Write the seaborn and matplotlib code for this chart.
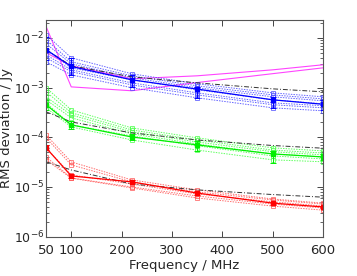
import matplotlib
matplotlib.use('Agg')
import matplotlib.pyplot as plt
import seaborn as sns
import numpy as np

sns.set_style('ticks')
plt.rcParams.update({
    'font.family': ['DejaVu Sans'],
    'xtick.direction': 'in',
    'ytick.direction': 'in',
    'xtick.top': True,
    'ytick.right': True,
    'axes.linewidth': 0.8,
})

FREQ = [50, 100, 220, 350, 500, 600]
XTICKS = [50, 100, 200, 300, 400, 500, 600]

# magenta reference curves
MAG_A = [1.70e-2, 1.03e-3, 8.6e-4, 1.26e-3, 1.90e-3, 2.49e-3]
MAG_B = [5.0e-3, 2.74e-3, 1.50e-3, 1.72e-3, 2.27e-3, 2.87e-3]

# blue group
BLUE_MAIN = [5.8e-3, 2.65e-3, 1.43e-3, 9.3e-4, 5.65e-4, 4.6e-4]
BLUE_LO = [3.6e-3, 1.80e-3, 1.03e-3, 6.2e-4, 3.9e-4, 3.6e-4]
BLUE_HI = [1.05e-2, 3.97e-3, 1.80e-3, 1.03e-3, 6.5e-4, 5.6e-4]
BLUE_MODEL = [5.75e-3, 2.74e-3, 1.64e-3, 1.24e-3, 9.4e-4, 8.2e-4]
BLUE_RUNS = [
    [1.16e-2, 3.97e-3, 1.89e-3, 1.19e-3, 7.8e-4, 6.5e-4],
    [9.2e-3, 3.3e-3, 1.72e-3, 1.08e-3, 7.1e-4, 5.9e-4],
    [7.6e-3, 3.0e-3, 1.57e-3, 9.9e-4, 6.5e-4, 5.4e-4],
    [5.75e-3, 2.49e-3, 1.43e-3, 9.0e-4, 5.65e-4, 4.7e-4],
    [4.56e-3, 2.27e-3, 1.24e-3, 7.8e-4, 4.9e-4, 4.3e-4],
    [3.97e-3, 2.08e-3, 1.13e-3, 7.1e-4, 4.5e-4, 3.9e-4],
    [3.3e-3, 1.8e-3, 9.9e-4, 6.2e-4, 3.9e-4, 3.4e-4],
]

# green group
GREEN_MAIN = [4.5e-4, 1.77e-4, 1.01e-4, 7.0e-5, 4.6e-5, 4.0e-5]
GREEN_LO = [3.6e-4, 1.45e-4, 8.6e-5, 5.3e-5, 3.0e-5, 3.5e-5]
GREEN_HI = [5.6e-4, 2.1e-4, 1.15e-4, 8.4e-5, 5.3e-5, 4.5e-5]
GREEN_MODEL = [3.24e-4, 2.03e-4, 1.22e-4, 8.8e-5, 6.8e-5, 6.0e-5]
GREEN_RUNS = [
    [9.9e-4, 3.55e-4, 1.54e-4, 9.7e-5, 6.1e-5, 5.3e-5],
    [8.2e-4, 3.1e-4, 1.4e-4, 8.8e-5, 5.5e-5, 4.8e-5],
    [6.5e-4, 2.8e-4, 1.28e-4, 8.0e-5, 5.1e-5, 4.4e-5],
    [5.65e-4, 2.45e-4, 1.17e-4, 7.3e-5, 4.6e-5, 4.0e-5],
    [4.9e-4, 1.77e-4, 1.06e-4, 6.7e-5, 4.2e-5, 3.65e-5],
    [3.9e-4, 1.61e-4, 8.8e-5, 5.5e-5, 3.5e-5, 3.2e-5],
]

# red group
RED_MAIN = [6.1e-5, 1.66e-5, 1.26e-5, 7.5e-6, 4.7e-6, 3.94e-6]
RED_LO = [5.4e-5, 1.5e-5, 1.17e-5, 7.0e-6, 4.4e-6, 3.7e-6]
RED_HI = [6.9e-5, 1.8e-5, 1.36e-5, 8.0e-6, 5.0e-6, 4.2e-6]
RED_MODEL = [3.2e-5, 2.19e-5, 1.14e-5, 8.7e-6, 7.0e-6, 6.2e-6]
RED_RUNS = [
    [1.11e-4, 3.18e-5, 1.38e-5, 8.7e-6, 5.7e-6, 4.7e-6],
    [9.7e-5, 2.77e-5, 1.26e-5, 7.9e-6, 5.45e-6, 4.5e-6],
    [6.1e-5, 1.74e-5, 1.14e-5, 7.2e-6, 5.0e-6, 4.1e-6],
    [4.0e-5, 1.51e-5, 9.95e-6, 6.55e-6, 4.5e-6, 3.76e-6],
    [3.5e-5, 1.5e-5, 9.5e-6, 5.97e-6, 4.1e-6, 3.4e-6],
]

GROUPS = [
    ('#0000ff', '#4a4aff', BLUE_MAIN, BLUE_LO, BLUE_HI, BLUE_MODEL, BLUE_RUNS),
    ('#00ee00', '#44ff44', GREEN_MAIN, GREEN_LO, GREEN_HI, GREEN_MODEL, GREEN_RUNS),
    ('#ff0000', '#ff5555', RED_MAIN, RED_LO, RED_HI, RED_MODEL, RED_RUNS),
]

fig, ax = plt.subplots(figsize=(3.57, 2.76), dpi=100)
fig.subplots_adjust(left=0.129, right=0.905, bottom=0.143, top=0.928)

for mag in (MAG_A, MAG_B):
    sns.lineplot(x=FREQ, y=mag, ax=ax, color='#ff44ff', lw=0.8)

for col, light, main, lo, hi, model, runs in GROUPS:
    for run in runs:
        sns.lineplot(x=FREQ, y=run, ax=ax, color=light, lw=0.7,
                     linestyle=(0, (1.5, 1.2)), marker='s', markersize=3,
                     markerfacecolor='none', markeredgecolor=light,
                     markeredgewidth=0.6, alpha=0.85)
    sns.lineplot(x=FREQ, y=model, ax=ax, color='#333333', lw=0.7,
                 linestyle=(0, (5, 2, 1, 2)))
    main_a = np.array(main)
    yerr = [main_a - np.array(lo), np.array(hi) - main_a]
    ax.errorbar(FREQ, main, yerr=yerr, color=col, lw=0.9, marker='s',
                markersize=3.5, capsize=2.5, elinewidth=0.7, capthick=0.7)

ax.set_yscale('log')
ax.set_xlim(50, 600)
ax.set_ylim(1e-6, 2.3e-2)
ax.set_xticks(XTICKS)
ax.set_xticklabels([str(t) for t in XTICKS])
ax.set_yticks([1e-6, 1e-5, 1e-4, 1e-3, 1e-2])
ax.tick_params(axis='x', which='major', length=4, width=0.6, labelsize=9.5, pad=5.5)
ax.tick_params(axis='y', which='major', length=4, width=0.6, labelsize=9, pad=1.5)
ax.tick_params(axis='y', which='minor', length=2, width=0.5)
ax.tick_params(axis='x', which='minor', bottom=False, top=False)
ax.set_xlabel('Frequency / MHz', fontsize=9.5, labelpad=1)
ax.set_ylabel('RMS deviation / Jy', fontsize=9.5)
ax.yaxis.set_label_coords(-0.118, 0.5)
for s in ax.spines.values():
    s.set_color('#555555')

fig.savefig('out.png', dpi=100)
